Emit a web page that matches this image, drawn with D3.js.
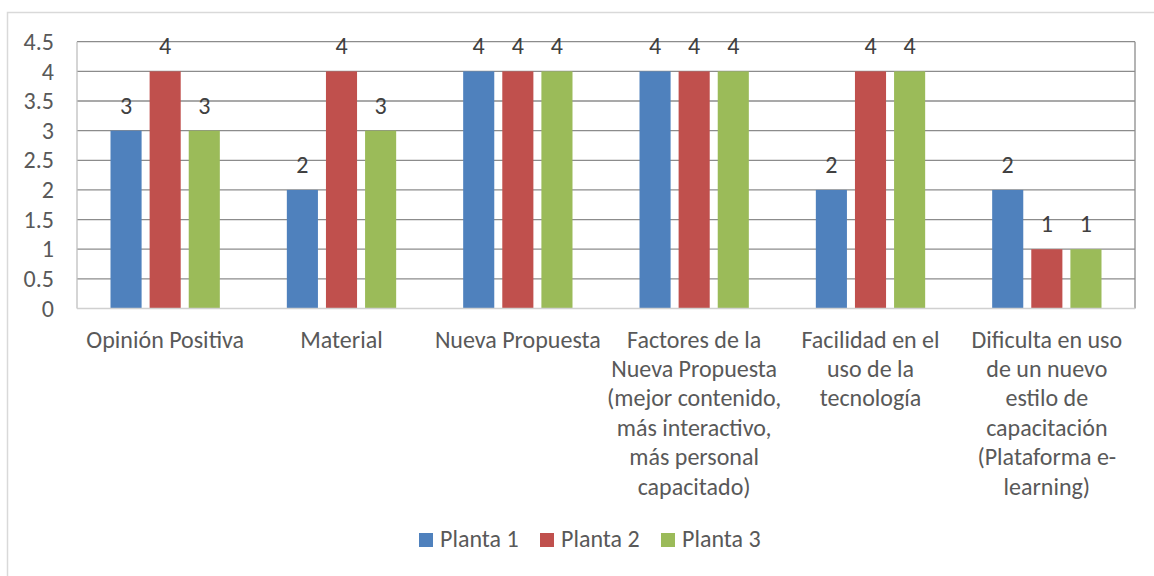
<!DOCTYPE html>
<html>
<head>
<meta charset="utf-8">
<script src="https://cdn.jsdelivr.net/npm/d3@7"></script>
<style>
  body { margin: 0; background: #fff; }
  text { font-family: Carlito, Lato, sans-serif; }
</style>
</head>
<body>
<script>
const categories = [
  ['Opinión Positiva'],
  ['Material'],
  ['Nueva Propuesta'],
  ['Factores de la', 'Nueva Propuesta', '(mejor contenido,', 'más interactivo,', 'más personal', 'capacitado)'],
  ['Facilidad en el', 'uso de la', 'tecnología'],
  ['Dificulta en uso', 'de un nuevo', 'estilo de', 'capacitación', '(Plataforma e-', 'learning)']
]
const seriesNames = ['Planta 1', 'Planta 2', 'Planta 3']
const planta1 = [3, 2, 4, 4, 2, 2]
const planta2 = [4, 4, 4, 4, 4, 1]
const planta3 = [3, 3, 4, 4, 4, 1]
const yTicks = [0, 0.5, 1, 1.5, 2, 2.5, 3, 3.5, 4, 4.5]
const colors = ['#4F81BD', '#C0504D', '#9BBB59']

const series = [planta1, planta2, planta3]
const width = 1154, height = 576
const plot = { left: 77, right: 1135, top: 41.7, bottom: 308.5 }
const fontSize = 24

const svg = d3.select('body').append('svg')
  .attr('width', width)
  .attr('height', height)

// outer chart border (only left and top visible)
svg.append('rect')
  .attr('x', 7.5).attr('y', 12.5)
  .attr('width', 1200).attr('height', 600)
  .attr('fill', 'none')
  .attr('stroke', '#d9d9d9')
  .attr('stroke-width', 1.5)

let x = d3.scaleBand()
  .domain(d3.range(categories.length))
  .range([plot.left, plot.right])

let y = d3.scaleLinear()
  .domain([0, 4.5])
  .range([plot.bottom, plot.top])

let xs = d3.scaleBand()
  .domain(d3.range(series.length))
  .range([0, x.bandwidth() * 0.62])
  .paddingInner(0.205)
  .paddingOuter(0)

let groupOffset = (x.bandwidth() - xs.range()[1]) / 2

// gridlines
svg.append('g')
  .selectAll('line')
  .data(yTicks.filter(d => d > 0))
  .enter().append('line')
    .attr('x1', plot.left).attr('x2', plot.right)
    .attr('y1', d => y(d)).attr('y2', d => y(d))
    .attr('stroke', '#8c8c8c')
    .attr('stroke-width', 1.3)

// plot sides
svg.append('line')
  .attr('x1', plot.left).attr('x2', plot.left)
  .attr('y1', plot.top).attr('y2', plot.bottom)
  .attr('stroke', '#bfbfbf').attr('stroke-width', 1.3)
svg.append('line')
  .attr('x1', plot.right).attr('x2', plot.right)
  .attr('y1', plot.top).attr('y2', plot.bottom)
  .attr('stroke', '#8c8c8c').attr('stroke-width', 1.3)

// bars
let groups = svg.append('g')
  .selectAll('g')
  .data(categories.map((c, i) => i))
  .enter().append('g')
    .attr('transform', i => 'translate(' + (x(i) + groupOffset) + ',0)')

groups.selectAll('rect')
  .data(i => series.map((s, k) => ({ k: k, v: s[i] })))
  .enter().append('rect')
    .attr('x', d => xs(d.k))
    .attr('width', xs.bandwidth())
    .attr('y', d => y(d.v))
    .attr('height', d => y(0) - y(d.v))
    .attr('fill', d => colors[d.k])

groups.selectAll('text')
  .data(i => series.map((s, k) => ({ k: k, v: s[i] })))
  .enter().append('text')
    .attr('x', d => xs(d.k) + xs.bandwidth() / 2)
    .attr('y', d => y(d.v) - 17)
    .attr('text-anchor', 'middle')
    .attr('font-size', fontSize)
    .attr('fill', '#404040')
    .text(d => d.v)

// x axis line
svg.append('line')
  .attr('x1', plot.left).attr('x2', plot.right)
  .attr('y1', y(0)).attr('y2', y(0))
  .attr('stroke', '#d0d0d0').attr('stroke-width', 1.5)

// y axis labels
let yAxis = svg.append('g')
  .attr('transform', 'translate(' + (plot.left - 23) + ',0)')
  .call(d3.axisLeft(y).tickValues(yTicks).tickSize(0).tickPadding(0).tickFormat(d3.format('')))
yAxis.select('.domain').remove()
yAxis.selectAll('text')
  .attr('font-size', fontSize)
  .attr('fill', '#595959')
  .attr('font-family', 'Carlito, Lato, sans-serif')

// category labels
svg.append('g')
  .selectAll('text')
  .data(categories)
  .enter().append('text')
    .attr('x', (d, i) => x(i) + x.bandwidth() / 2)
    .attr('y', 347.5)
    .attr('text-anchor', 'middle')
    .attr('font-size', fontSize)
    .attr('fill', '#595959')
  .selectAll('tspan')
    .data(d => d)
    .enter().append('tspan')
      .attr('x', function () { return this.parentNode.getAttribute('x') })
      .attr('dy', (d, i) => i === 0 ? 0 : 29.4)
      .text(d => d)

// legend
let legendX = [419, 540, 661]
let legend = svg.append('g')
  .selectAll('g')
  .data(seriesNames)
  .enter().append('g')
    .attr('transform', (d, i) => 'translate(' + legendX[i] + ',533)')
legend.append('rect')
  .attr('width', 14).attr('height', 14)
  .attr('fill', (d, i) => colors[i])
legend.append('text')
  .attr('x', 21).attr('y', 14)
  .attr('font-size', fontSize)
  .attr('fill', '#595959')
  .text(d => d)
</script>
</body>
</html>
